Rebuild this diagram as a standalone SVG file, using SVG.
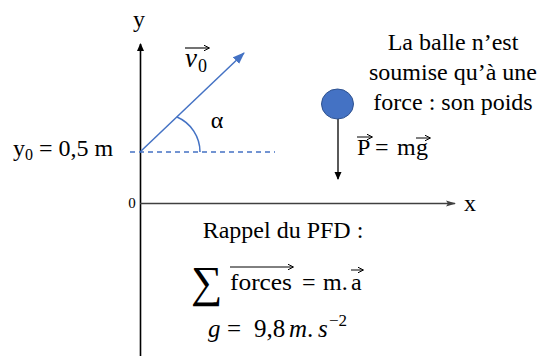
<svg xmlns="http://www.w3.org/2000/svg" width="539" height="356" viewBox="0 0 539 356">
<style>
text{font-family:"Liberation Serif","DejaVu Serif","Times New Roman",serif;fill:#000}
.i{font-style:italic}
</style>
<defs>
<marker id="ab" markerWidth="8" markerHeight="8" refX="7" refY="4" orient="auto" markerUnits="userSpaceOnUse"><path d="M0,0.5 L8,4 L0,7.5 z" fill="#000"/></marker>
<marker id="ag" markerWidth="10" markerHeight="8" refX="9" refY="4" orient="auto" markerUnits="userSpaceOnUse"><path d="M0,1 L10,4 L0,7 L2,4 z" fill="#404040"/></marker>
<marker id="abl" markerWidth="12" markerHeight="10" refX="11" refY="5" orient="auto" markerUnits="userSpaceOnUse"><path d="M0,0.5 L12,5 L0,9.5 z" fill="#4472C4"/></marker>
<marker id="sm" markerWidth="6" markerHeight="6" refX="5.5" refY="3" orient="auto" markerUnits="userSpaceOnUse"><path d="M0,0 L6,3 L0,6" fill="none" stroke="#000" stroke-width="1"/></marker>
</defs>
<g id="connectors">
<line x1="140.5" y1="356" x2="140.5" y2="44" stroke="#000" stroke-width="1.6" marker-end="url(#ab)"/>
<line x1="140" y1="203.5" x2="455" y2="203.5" stroke="#404040" stroke-width="1.6" marker-end="url(#ag)"/>
<line x1="130" y1="152" x2="275" y2="152" stroke="#4472C4" stroke-width="1.3" stroke-dasharray="5,4"/>
<line x1="140" y1="152" x2="244" y2="53" stroke="#4472C4" stroke-width="1.5" marker-end="url(#abl)"/>
<path d="M177,117 A38 38 0 0 1 200 152" fill="none" stroke="#4472C4" stroke-width="1.5"/>
<line x1="338" y1="103" x2="338" y2="179" stroke="#000" stroke-width="1.3" marker-end="url(#ab)"/>
</g>
<g id="ball">
<ellipse cx="337.5" cy="104" rx="16" ry="15" fill="#4472C4" stroke="#2F528F" stroke-width="1"/>
</g>
<g id="labels">
<text x="139" y="27" font-size="24" text-anchor="middle">y</text>
<text x="470" y="211" font-size="24" text-anchor="middle">x</text>
<text x="132" y="208" font-size="15" text-anchor="middle">0</text>
<text x="13" y="156" font-size="24">y<tspan font-size="16" dy="4">0</tspan><tspan dy="-4"> = 0,5 m</tspan></text>
<text x="217" y="128" font-size="24" text-anchor="middle">α</text>
<text class="i" x="185" y="67" font-size="27">v</text>
<text x="198" y="72" font-size="18">0</text>
<line x1="185" y1="48" x2="209" y2="48" stroke="#000" stroke-width="1.1" marker-end="url(#sm)"/>
</g>
<g id="text-force">
<text font-size="24" text-anchor="middle"><tspan x="453" y="50">La balle n’est</tspan><tspan x="453" y="80">soumise qu’à une</tspan><tspan x="453" y="110">force : son poids</tspan></text>
<text x="357" y="155" font-size="24">P</text>
<text x="375" y="155" font-size="24">=</text>
<text x="397" y="155" font-size="24">m</text>
<text x="416" y="155" font-size="24">g</text>
<line x1="357" y1="137" x2="372" y2="137" stroke="#000" stroke-width="1" marker-end="url(#sm)"/>
<line x1="416" y1="138" x2="430" y2="138" stroke="#000" stroke-width="1" marker-end="url(#sm)"/>
</g>
<g id="text-pfd">
<text x="283" y="238" font-size="24" text-anchor="middle">Rappel du PFD :</text>
<text x="191" y="297" font-size="44">∑</text>
<text x="230" y="290" font-size="24" textLength="62" lengthAdjust="spacingAndGlyphs">forces</text>
<line x1="230" y1="267" x2="293" y2="267" stroke="#000" stroke-width="1" marker-end="url(#sm)"/>
<text x="302" y="290" font-size="24">=</text>
<text x="323" y="290" font-size="24">m.</text>
<text x="351" y="290" font-size="24">a</text>
<line x1="351" y1="270" x2="363" y2="270" stroke="#000" stroke-width="1" marker-end="url(#sm)"/>
<text x="208" y="337" font-size="25"><tspan class="i">g</tspan><tspan x="227">=</tspan><tspan x="254">9,8</tspan><tspan x="289" class="i">m</tspan><tspan>.</tspan><tspan class="i" x="318">s</tspan><tspan font-size="17" dy="-11" x="329">−2</tspan></text>
</g>
</svg>
